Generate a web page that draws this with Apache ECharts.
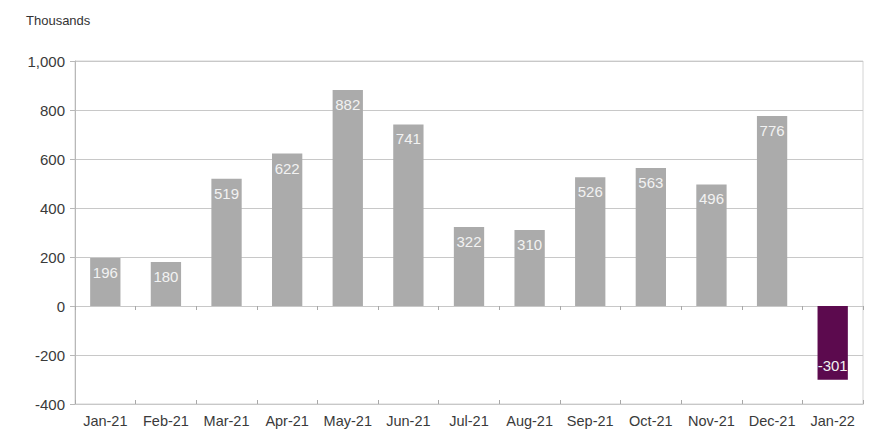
<!DOCTYPE html>
<html>
<head>
<meta charset="utf-8">
<script src="https://cdn.jsdelivr.net/npm/echarts@6/dist/echarts.min.js"></script>
<style>
  html, body { margin: 0; padding: 0; background: #fff; }
  #chart { width: 895px; height: 448px; }
</style>
</head>
<body>
<div id="chart"></div>
<script>
var months = ['Jan-21', 'Feb-21', 'Mar-21', 'Apr-21', 'May-21', 'Jun-21', 'Jul-21',
  'Aug-21', 'Sep-21', 'Oct-21', 'Nov-21', 'Dec-21', 'Jan-22'];
var values = [196, 180, 519, 622, 882, 741, 322, 310, 526, 563, 496, 776, -301];
var yTicks = [-400, 1000, 200];  // min, max, step

var grey = '#ababab';
var purple = '#5c0a4e';
var lineGrey = '#c8c8c8';
var font = 'Liberation Sans, Arial, sans-serif';

var chart = echarts.init(document.getElementById('chart'), null, { renderer: 'svg' });

// zero-line axis, ticks drawn on both sides of it
function zeroAxis(inside) {
  return {
    type: 'category',
    data: months,
    position: 'bottom',
    axisLine: { onZero: true, lineStyle: { color: lineGrey } },
    axisTick: { show: true, inside: inside, length: 4, lineStyle: { color: '#a8a8a8' } },
    axisLabel: { show: false }
  };
}

chart.setOption({
  backgroundColor: '#fff',
  animation: false,
  title: {
    text: 'Thousands',
    left: 21,
    top: 9,
    textStyle: { color: '#333', fontSize: 13, fontWeight: 'normal', fontFamily: font }
  },
  grid: {
    left: 75, right: 32, top: 61, bottom: 44,
    show: true, borderColor: '#d4d4d4', borderWidth: 1
  },
  xAxis: [{
    type: 'category',
    data: months,
    axisLine: { onZero: false, lineStyle: { color: '#d4d4d4' } },
    axisTick: { show: false },
    axisLabel: { color: '#3a3a3a', fontSize: 14.5, fontFamily: font, margin: 9, interval: 0 },
    splitLine: { show: false }
  }, zeroAxis(false), zeroAxis(true)],
  yAxis: {
    type: 'value',
    min: yTicks[0],
    max: yTicks[1],
    interval: yTicks[2],
    axisLine: { show: true, lineStyle: { color: '#b8b8b8' } },
    axisTick: { show: true, length: 5, lineStyle: { color: '#b8b8b8' } },
    axisLabel: {
      color: '#3a3a3a', fontSize: 15, fontFamily: font, margin: 10,
      formatter: function (v) { return v.toLocaleString('en-US'); }
    },
    splitLine: { lineStyle: { color: lineGrey } }
  },
  series: [{
    type: 'bar',
    xAxisIndex: 0,
    barWidth: '50%',
    data: values.map(function (v) {
      return {
        value: v,
        itemStyle: { color: v < 0 ? purple : grey },
        label: { position: v < 0 ? 'insideBottom' : 'insideTop' }
      };
    }),
    label: {
      show: true,
      color: '#f2f2f2',
      fontSize: 15,
      fontFamily: font,
      distance: 7
    }
  }]
});
</script>
</body>
</html>
